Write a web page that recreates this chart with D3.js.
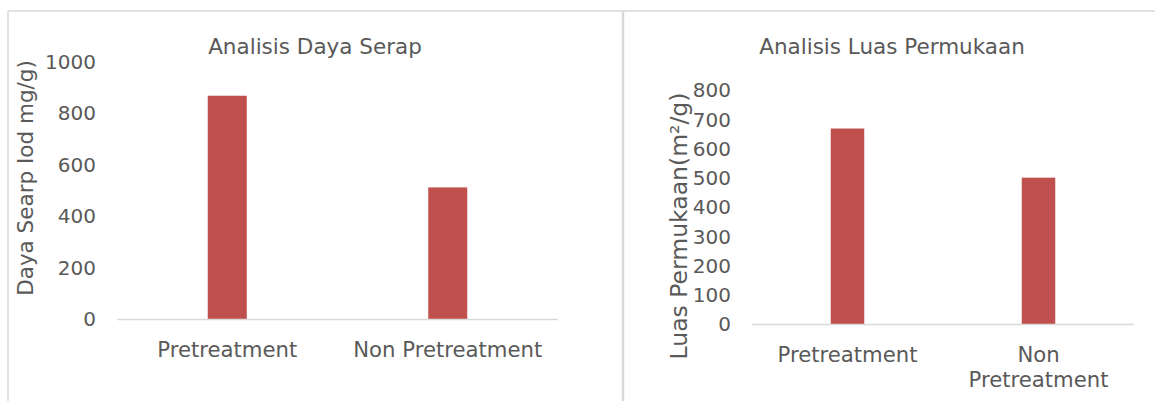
<!DOCTYPE html>
<html>
<head>
    <title>Analisis</title>
    <script src="https://cdn.jsdelivr.net/npm/d3@7"></script>
    <style>
        body { margin: 0; background: #fff; }
        text { font-family: "DejaVu Sans", Verdana, sans-serif; fill: #595959; }
    </style>
</head>
<body>
    <svg width="1155" height="401" id="mainsvg"></svg>
    <script>
        // data
        const categories = ['Pretreatment', 'Non Pretreatment'];
        const dayaSerap = [869, 513];
        const luasPermukaan = [670, 502];
        const ticksLeft = [0, 200, 400, 600, 800, 1000];
        const ticksRight = [0, 100, 200, 300, 400, 500, 600, 700, 800];

        const svg = d3.select('svg');
        const BAR = '#C0504D';
        const GRID = '#D9D9D9';

        // panel borders
        svg.append('line').attr('x1', 8).attr('x2', 1155).attr('y1', 11).attr('y2', 11)
            .attr('stroke', GRID).attr('stroke-width', 1.5);
        svg.append('line').attr('x1', 8).attr('x2', 8).attr('y1', 11).attr('y2', 401)
            .attr('stroke', GRID).attr('stroke-width', 1.5);
        svg.append('line').attr('x1', 623).attr('x2', 623).attr('y1', 11).attr('y2', 401)
            .attr('stroke', GRID).attr('stroke-width', 2.5);

        function drawChart(opt) {
            const g = svg.append('g');
            const x = d3.scaleBand().domain(categories).range([opt.x0, opt.x1]).paddingInner(0).paddingOuter(0);
            const y = d3.scaleLinear().domain([0, opt.max]).range([opt.yBase, opt.yTop]);

            g.append('text').attr('x', opt.titleX).attr('y', 54).attr('text-anchor', 'middle')
                .attr('font-size', 21.5).text(opt.title);

            // y tick labels
            const ay = g.append('g').attr('transform', `translate(${opt.tickX},0)`)
                .call(d3.axisLeft(y).tickValues(opt.ticks).tickSize(0).tickPadding(0).tickFormat(d3.format('d')));
            ay.select('.domain').remove();
            ay.selectAll('text').attr('font-size', 20).attr('fill', '#595959')
                .style('font-family', '"DejaVu Sans", Verdana, sans-serif');

            // y axis title
            g.append('text').attr('transform', `translate(${opt.yTitleX},${opt.yTitleY}) rotate(-90)`)
                .attr('text-anchor', 'middle').attr('dy', '0.35em').attr('font-size', opt.yTitleSize).text(opt.yTitle);

            // bars
            const bw = opt.barW;
            g.selectAll('.bar').data(opt.values).join('rect').attr('class', 'bar')
                .attr('x', (d, i) => x(categories[i]) + x.bandwidth() / 2 - bw / 2)
                .attr('width', bw)
                .attr('y', d => y(d))
                .attr('height', d => y(0) - y(d))
                .attr('fill', BAR);

            // baseline
            g.append('line').attr('x1', opt.x0).attr('x2', opt.x1).attr('y1', y(0)).attr('y2', y(0))
                .attr('stroke', GRID).attr('stroke-width', 1.5);

            // category labels
            g.selectAll('.cat').data(categories).join('text').attr('class', 'cat')
                .attr('x', d => x(d) + x.bandwidth() / 2)
                .attr('y', opt.labelY)
                .attr('text-anchor', 'middle').attr('font-size', 21.2)
                .each(function (d) {
                    const lines = opt.wrap && d.includes(' ') ? d.split(' ') : [d];
                    d3.select(this).selectAll('tspan').data(lines).join('tspan')
                        .attr('x', x(d) + x.bandwidth() / 2)
                        .attr('dy', (l, i) => i === 0 ? 0 : 25)
                        .text(l => l);
                });
        }

        drawChart({
            title: 'Analisis Daya Serap', titleX: 315,
            yTitle: 'Daya Searp Iod mg/g)', yTitleX: 25, yTitleY: 178, yTitleSize: 21.5,
            values: dayaSerap, max: 1000, ticks: ticksLeft,
            x0: 117, x1: 558, yBase: 319.5, yTop: 62, tickX: 96,
            barW: 39, labelY: 357, wrap: false
        });

        drawChart({
            title: 'Analisis Luas Permukaan', titleX: 892,
            yTitle: 'Luas Permukaan(m²/g)', yTitleX: 679, yTitleY: 226, yTitleSize: 23.5,
            values: luasPermukaan, max: 800, ticks: ticksRight,
            x0: 752, x1: 1134, yBase: 324.5, yTop: 90.5, tickX: 731,
            barW: 33.5, labelY: 362, wrap: true
        });
    </script>
</body>
</html>
